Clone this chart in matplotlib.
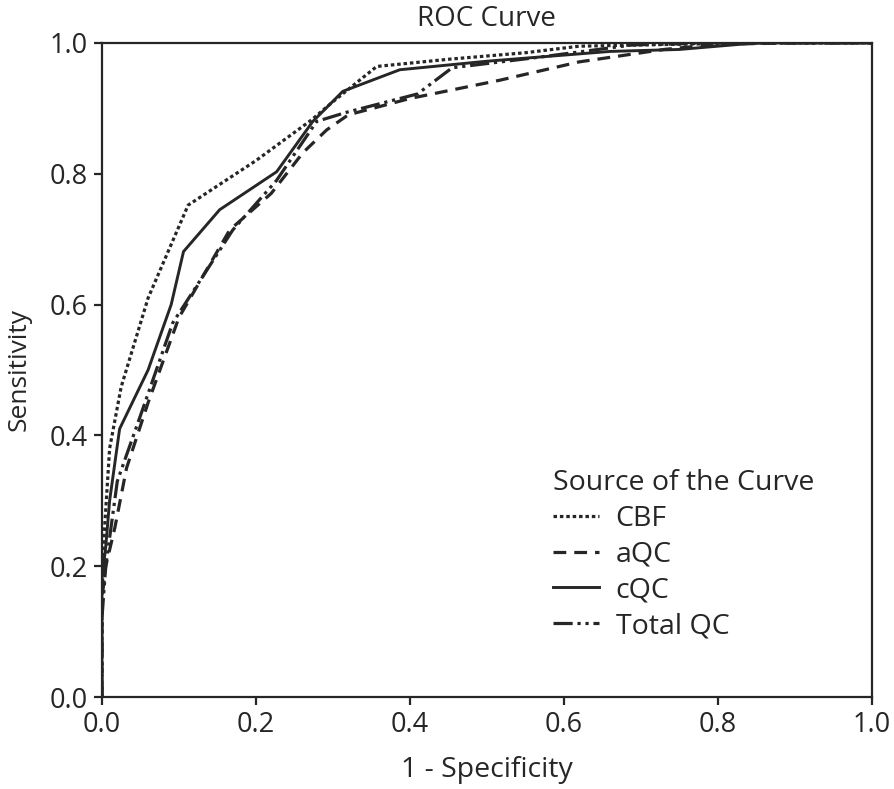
import matplotlib
matplotlib.use("Agg")
import matplotlib.pyplot as plt

plt.rcParams['font.family'] = ['Open Sans', 'DejaVu Sans']

# Data
cbf_x = [0.0, 0.0, 0.003, 0.01, 0.025, 0.06, 0.112, 0.20, 0.272, 0.30, 0.357, 0.45, 0.55, 0.62, 0.75, 0.85, 1.0]
cbf_y = [0.0, 0.15, 0.25, 0.38, 0.474, 0.61, 0.752, 0.82, 0.882, 0.91, 0.964, 0.975, 0.985, 0.995, 0.998, 1.0, 1.0]

aqc_x = [0.0, 0.0, 0.005, 0.017, 0.032, 0.06, 0.10, 0.166, 0.22, 0.261, 0.292, 0.32, 0.40, 0.517, 0.62, 0.73, 0.80, 0.90, 1.0]
aqc_y = [0.0, 0.15, 0.20, 0.26, 0.35, 0.45, 0.58, 0.714, 0.77, 0.832, 0.867, 0.89, 0.915, 0.943, 0.971, 0.99, 0.998, 1.0, 1.0]

cqc_x = [0.0, 0.0, 0.005, 0.01, 0.023, 0.06, 0.09, 0.106, 0.153, 0.227, 0.274, 0.313, 0.387, 0.50, 0.66, 0.75, 0.85, 1.0]
cqc_y = [0.0, 0.18, 0.23, 0.30, 0.41, 0.50, 0.60, 0.681, 0.745, 0.803, 0.88, 0.926, 0.959, 0.972, 0.987, 0.99, 1.0, 1.0]

tqc_x = [0.0, 0.0, 0.005, 0.02, 0.05, 0.092, 0.17, 0.227, 0.279, 0.318, 0.41, 0.455, 0.56, 0.69, 0.80, 1.0]
tqc_y = [0.0, 0.12, 0.20, 0.33, 0.43, 0.572, 0.714, 0.79, 0.88, 0.894, 0.922, 0.962, 0.977, 0.997, 1.0, 1.0]

labels = ['CBF', 'aQC', 'cQC', 'Total QC']
ticks = [0.0, 0.2, 0.4, 0.6, 0.8, 1.0]
tick_labels = ['0.0', '0.2', '0.4', '0.6', '0.8', '1.0']

col = '#262626'
fig = plt.figure(figsize=(8.94, 7.89), dpi=100)
ax = fig.add_axes([0.114, 0.1166, 0.861, 0.829])

ax.plot(cbf_x, cbf_y, color=col, lw=2.3, ls=(0, (1.1, 0.9)), label=labels[0])
ax.plot(aqc_x, aqc_y, color=col, lw=2.3, ls=(0, (4, 2.5)), label=labels[1])
ax.plot(cqc_x, cqc_y, color=col, lw=2.1, ls='-', label=labels[2])
ax.plot(tqc_x, tqc_y, color=col, lw=2.3, ls=(0, (6, 1.5, 1, 1.5, 1, 1.5)), label=labels[3])

ax.set_xlim(0, 1)
ax.set_ylim(0, 1)
ax.set_xticks(ticks)
ax.set_xticklabels(tick_labels)
ax.set_yticks(ticks)
ax.set_yticklabels(tick_labels)
ax.tick_params(direction='out', length=6, width=1.6, labelsize=19.5, colors=col, pad=4)
for s in ax.spines.values():
    s.set_linewidth(1.6)
    s.set_color(col)

ax.set_title('ROC Curve', fontsize=20, color=col, pad=12)
ax.set_xlabel('1 - Specificity', fontsize=20.5, color=col, labelpad=12)
ax.set_ylabel('Sensitivity', fontsize=19, color=col, labelpad=13)

leg = ax.legend(loc='upper left', bbox_to_anchor=(0.586, 0.348), frameon=False,
                title='Source of the Curve', fontsize=20.5, title_fontsize=20.5,
                handlelength=1.6, handletextpad=0.6, labelspacing=0.27,
                borderpad=0.0, borderaxespad=0.0)
leg._legend_box.align = 'left'
for t in leg.get_texts():
    t.set_color(col)
leg.get_title().set_color(col)

fig.savefig('out.png', dpi=100, facecolor='white')
